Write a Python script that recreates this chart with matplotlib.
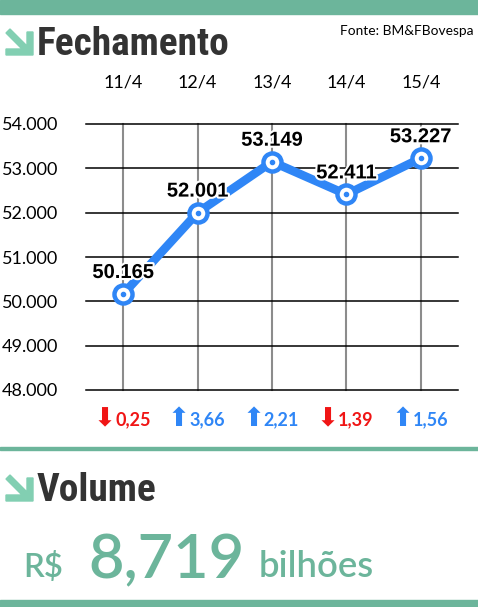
import matplotlib
matplotlib.use("Agg")
import matplotlib.pyplot as plt
from matplotlib import font_manager as fm
from matplotlib.patches import Polygon, Rectangle
import matplotlib.patheffects as pe
import matplotlib.transforms as mtransforms

# ---------------- data ----------------
dates = ["11/4", "12/4", "13/4", "14/4", "15/4"]
closing = [50165, 52001, 53149, 52411, 53227]
closing_labels = ["50.165", "52.001", "53.149", "52.411", "53.227"]
changes = [-0.25, 3.66, 2.21, -1.39, 1.56]
y_ticks = [48000, 49000, 50000, 51000, 52000, 53000, 54000]
y_tick_labels = ["48.000", "49.000", "50.000", "51.000", "52.000", "53.000", "54.000"]
title_main = "Fechamento"
title_volume = "Volume"
source = "Fonte: BM&FBovespa"
volume_prefix = "R$"
volume_value = "8,719"
volume_unit = "bilhões"

# ---------------- style ----------------
W, H = 478, 607
GREEN = "#6cb59b"
ICON = "#82cfb2"
DARK = "#333333"
BLUE = "#2f86f6"
RED = "#f01515"

names = {f.name for f in fm.fontManager.ttflist}
REG = "Lato" if "Lato" in names else "DejaVu Sans"
cands = ["Liberation Sans Narrow", "Roboto Condensed", "Open Sans Condensed"]
NARROW = next((c for c in cands if c in names), None)

fig = plt.figure(figsize=(W / 100, H / 100), dpi=100)
fig.patch.set_facecolor("white")
renderer = fig.canvas.get_renderer()


def fx(x):
    return x / W


def fy(y):
    return 1 - y / H


def fit_width(t, target_px):
    w = t.get_window_extent(renderer=renderer).width
    t.set_fontsize(t.get_fontsize() * target_px / w)


# bands
fig.patches.append(Rectangle((0, fy(14)), 1, 14 / H, transform=fig.transFigure, color=GREEN, zorder=0))
fig.patches.append(Rectangle((0, fy(450)), 1, 3 / H, transform=fig.transFigure, color=GREEN, zorder=0))
fig.patches.append(Rectangle((0, 0), 1, 7 / H, transform=fig.transFigure, color=GREEN, zorder=0))


def icon(dy):
    pts = [(6, 33), (10, 29), (27, 46), (27, 32), (33, 32), (33, 55), (6, 55), (6, 49), (22, 49)]
    poly = Polygon([(fx(x), fy(y + dy)) for x, y in pts], closed=True,
                   transform=fig.transFigure, color=ICON, zorder=1)
    fig.patches.append(poly)


icon(0)
icon(446)

tfam = [NARROW] if NARROW else [REG, "DejaVu Sans"]
tw = "bold" if NARROW else 900
t1 = fig.text(fx(37), fy(55), title_main, family=tfam, weight=tw,
              fontsize=28, color=DARK, va="baseline", ha="left")
fit_width(t1, 193)
t2 = fig.text(fx(37), fy(501), title_volume, family=tfam, weight=tw,
              fontsize=28, color=DARK, va="baseline", ha="left")
t2.set_fontsize(t1.get_fontsize())
t3 = fig.text(fx(474), fy(35), source, family=[REG, "DejaVu Sans"], fontsize=10.5,
              color="black", va="baseline", ha="right")
fit_width(t3, 134)

v1 = fig.text(fx(23), fy(577), volume_prefix, family=[REG, "DejaVu Sans"], weight="semibold",
              fontsize=29, color=GREEN, va="baseline", ha="left")
fit_width(v1, 40)
v2 = fig.text(fx(88), fy(578), volume_value, family=[REG, "DejaVu Sans"], weight="semibold",
              fontsize=48, color=GREEN, va="baseline", ha="left")
fit_width(v2, 156)
v3 = fig.text(fx(259), fy(577), volume_unit, family=[REG, "DejaVu Sans"], weight="semibold",
              fontsize=29, color=GREEN, va="baseline", ha="left")
fit_width(v3, 115)

# ---------------- chart ----------------
ax = fig.add_axes([fx(86), fy(390), (458 - 86) / W, (390 - 124) / H])
ax.set_facecolor("none")
x = list(range(len(dates)))
ax.set_xlim(-0.5, len(dates) - 0.5)
ax.set_ylim(y_ticks[0], y_ticks[-1])
for s in ax.spines.values():
    s.set_visible(False)

for xi in x:
    ax.axvline(xi, color="#8c8c8c", lw=1.5, zorder=1, clip_on=False)
for yt in y_ticks:
    ax.axhline(yt, color="black", lw=1.1, zorder=2, clip_on=False)

ax.set_yticks(y_ticks)
ax.set_yticklabels(y_tick_labels, family=[REG, "DejaVu Sans"], fontsize=13)
ax.tick_params(axis="y", length=0, pad=20)
ax.xaxis.tick_top()
ax.set_xticks(x)
ax.set_xticklabels(dates, family=[REG, "DejaVu Sans"], fontsize=13)
ax.tick_params(axis="x", length=0, pad=24)

ax.plot(x, closing, color=BLUE, lw=6.2, solid_capstyle="round", zorder=3)
ax.plot(x, closing, ls="none", marker="o", ms=13, mfc="white", mec=BLUE, mew=3.2, zorder=5)
ax.plot(x, closing, ls="none", marker="o", ms=3, mfc=BLUE, mec=BLUE, zorder=6)

for xi, v, lab in zip(x, closing, closing_labels):
    ax.annotate(lab, (xi, v), xytext=(0, 15.5), textcoords="offset points",
                ha="center", va="center", family=["Liberation Sans", "DejaVu Sans"],
                weight="bold", fontsize=14.5, color="black", zorder=4,
                path_effects=[pe.withStroke(linewidth=3, foreground="white")])

trans = mtransforms.blended_transform_factory(ax.transData, fig.transFigure)
for xi, c in zip(x, changes):
    arrow = "⬇" if c < 0 else "⬆"
    col = RED if c < 0 else BLUE
    num = f"{abs(c):.2f}".replace(".", ",")
    ax.text(xi - 0.25, fy(419), arrow, transform=trans, ha="center", va="center",
            family=["DejaVu Sans"], fontsize=19, color=col, clip_on=False)
    ax.text(xi - 0.11, fy(420), num, transform=trans, ha="left", va="center",
            family=[REG, "DejaVu Sans"], weight="bold", fontsize=13, color=col, clip_on=False)

fig.savefig("out.png", dpi=100, facecolor="white")
